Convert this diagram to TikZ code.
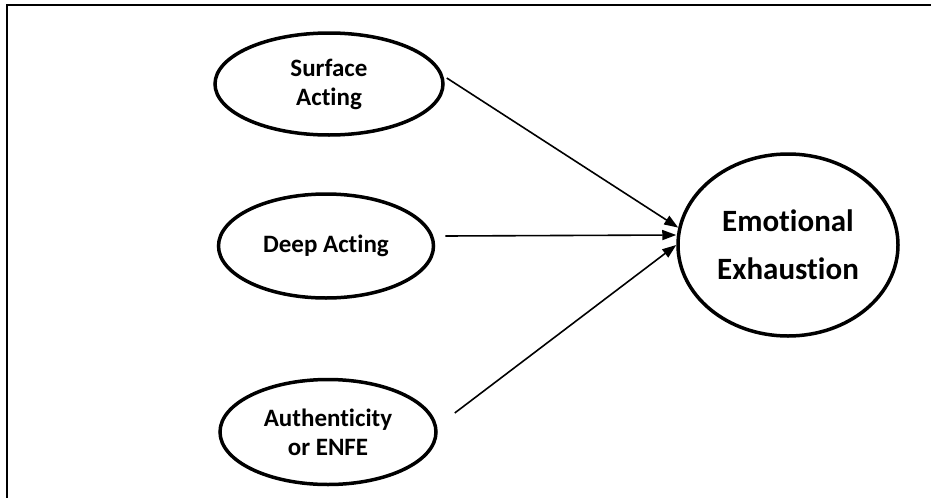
\documentclass[tikz,border=0pt]{standalone}
\usepackage{fontspec}
\setmainfont{Carlito}[Ligatures=NoCommon]
\usetikzlibrary{shapes.geometric,arrows.meta,calc}
\tikzset{
  oval/.style={draw, ellipse, line width=3.5pt, inner sep=0pt, align=center,
    font=\bfseries\fontsize{25}{29}\selectfont},
  arr/.style={line width=1.6pt, -{Triangle[length=14pt,width=10pt]}},
  frame/.style={line width=1.8pt}
}
\begin{document}
\begin{tikzpicture}[x=1pt,y=-1pt]
\useasboundingbox (0,0) rectangle (931,498);
\draw[frame] (931,5) -- (7,5) -- (7,498);
\node[oval, minimum width=228pt, minimum height=102pt] (SA) at (329,84) {Surface\\Acting};
\node[oval, minimum width=215pt, minimum height=104pt] (DA) at (326,246) {Deep Acting};
\node[oval, minimum width=216pt, minimum height=105pt] (AE) at (328,432) {Authenticity\\or ENFE};
\node[oval, minimum width=220pt, minimum height=182pt,
  font=\bfseries\fontsize{31}{48}\selectfont] (EE) at (788,245) {Emotional\\Exhaustion};
\draw[arr] ($(SA.east)+(2,-6)$) -- (EE.171);
\draw[arr] ($(DA.east)+(10,-10)$) -- ($(EE.west)+(0,-10)$);
\draw[arr] ($(AE.east)+(17,-19)$) -- (EE.180);
\end{tikzpicture}
\end{document}
